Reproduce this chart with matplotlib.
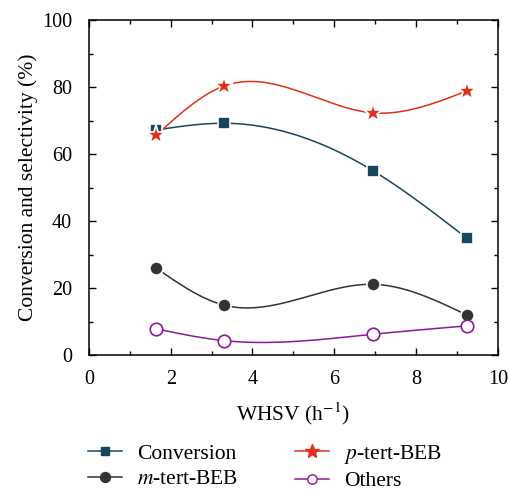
import matplotlib
matplotlib.use('Agg')
import matplotlib.pyplot as plt
import numpy as np
from matplotlib.ticker import MultipleLocator

# data
whsv = [1.65, 3.3, 6.95, 9.25]
conversion = [67.2, 69.2, 55.0, 34.8]
p_tert = [65.7, 80.3, 72.3, 78.9]
m_tert = [25.9, 14.9, 21.1, 11.9]
others = [7.8, 4.3, 6.2, 8.7]


def spline(x, y, n=200):
    # natural cubic spline through the points
    x = np.asarray(x, float)
    y = np.asarray(y, float)
    k = len(x)
    h = np.diff(x)
    A = np.zeros((k, k))
    b = np.zeros(k)
    A[0, 0] = 1
    A[-1, -1] = 1
    for i in range(1, k - 1):
        A[i, i - 1] = h[i - 1]
        A[i, i] = 2 * (h[i - 1] + h[i])
        A[i, i + 1] = h[i]
        b[i] = 6 * ((y[i + 1] - y[i]) / h[i] - (y[i] - y[i - 1]) / h[i - 1])
    M = np.linalg.solve(A, b)
    xs = np.linspace(x[0], x[-1], n)
    ys = np.empty_like(xs)
    for j, xv in enumerate(xs):
        i = min(np.searchsorted(x, xv, side='right') - 1, k - 2)
        t1 = x[i + 1] - xv
        t2 = xv - x[i]
        ys[j] = (M[i] * t1 ** 3 + M[i + 1] * t2 ** 3) / (6 * h[i]) \
            + (y[i] / h[i] - M[i] * h[i] / 6) * t1 \
            + (y[i + 1] / h[i] - M[i + 1] * h[i] / 6) * t2
    return xs, ys


plt.rcParams.update({'font.family': 'Liberation Serif', 'font.size': 14,
                     'mathtext.fontset': 'stix'})

fig = plt.figure(figsize=(5.08, 4.9), dpi=100)
ax = fig.add_axes([0.175, 0.2755, 0.805, 0.6835])

series = [
    (conversion, 'Conversion', '#17475b', 's', '#17475b', 8.5),
    (p_tert, '$p$-tert-BEB', '#e0301e', '*', '#e0301e', 14),
    (m_tert, '$m$-tert-BEB', '#333333', 'o', '#333333', 9.5),
    (others, 'Others', '#8a1a9a', 'o', 'white', 9),
]

for vals, label, color, marker, face, ms in series:
    xs, ys = spline(whsv, vals)
    ax.plot(xs, ys, color=color, lw=1.1, zorder=2)
    edge = 'white' if face != 'white' else color
    ax.plot(whsv, vals, linestyle='none', marker=marker, ms=ms,
            markerfacecolor=face, markeredgecolor=edge, mew=1.2, zorder=3)
    ax.plot([], [], color=color, lw=1.1, marker=marker, ms=ms * 0.75,
            markerfacecolor=face, markeredgecolor=color, label=label)

ax.set_xlim(0, 10)
ax.set_ylim(0, 100)
ax.xaxis.set_major_locator(MultipleLocator(2))
ax.xaxis.set_minor_locator(MultipleLocator(1))
ax.yaxis.set_major_locator(MultipleLocator(20))
ax.yaxis.set_minor_locator(MultipleLocator(10))
ax.tick_params(which='both', direction='in', top=True, right=True, width=1)
ax.tick_params(which='major', length=5, labelsize=14.5)
ax.tick_params(axis='x', which='major', pad=11)
ax.tick_params(axis='y', which='major', pad=12)
ax.tick_params(which='minor', length=3)
for s in ax.spines.values():
    s.set_linewidth(1.1)

ax.set_xlabel('WHSV (h$^{-1}$)', fontsize=15.5, labelpad=8)
ax.set_ylabel('Conversion and selectivity (%)', fontsize=15.5, labelpad=3)

handles, labels = ax.get_legend_handles_labels()
order = [0, 2, 1, 3]
fig.legend([handles[i] for i in order], [labels[i] for i in order],
           loc='lower left', bbox_to_anchor=(0.135, -0.042), ncol=2,
           frameon=False, fontsize=15.5, columnspacing=2.6,
           handlelength=1.6, handletextpad=0.7, labelspacing=0.25)

fig.savefig('out.png', dpi=100)
